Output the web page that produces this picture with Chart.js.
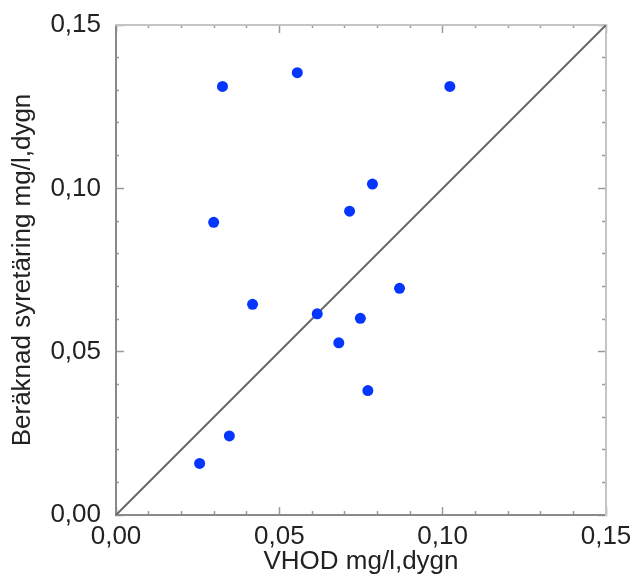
<!DOCTYPE html>
<html>
<head>
<meta charset="utf-8">
<script src="https://cdn.jsdelivr.net/npm/chart.js@4/dist/chart.umd.min.js"></script>
<style>
  body { margin: 0; background: #fff; }
</style>
</head>
<body>
<canvas id="myChart" width="634" height="581"></canvas>
<script>
// VHOD (x) vs beräknad syretäring (y), mg/l,dygn
const vhod = [0.0326, 0.0555, 0.1022, 0.0785, 0.0715, 0.0299, 0.0868, 0.0418, 0.0616, 0.0748, 0.0682, 0.0771, 0.0347, 0.0256];
const beraknad = [0.1312, 0.1354, 0.1312, 0.1013, 0.0930, 0.0896, 0.0694, 0.0645, 0.0616, 0.0602, 0.0527, 0.0381, 0.0242, 0.0158];
// 1:1 line
const refLine = [0, 0.15];

const axisMin = 0;
const axisMax = 0.15;
const majorStep = 0.05;
const minorStep = 0.01;

const FONT = "'Liberation Sans', Arial, sans-serif";

function isMajor(v) {
  const r = v / majorStep;
  return Math.abs(r - Math.round(r)) < 1e-6;
}
function fmt(v) {
  return isMajor(v) ? v.toFixed(2).replace(".", ",") : "";
}
// minor ticks shorter: cut the tick line with a dash pattern
function tickDash(inwardStart) {
  return function (ctx) {
    if (ctx.tick && isMajor(ctx.tick.value)) return [];
    return inwardStart ? [0, 5, 4, 100] : [5, 100];
  };
}

function axis(pos, opts) {
  const inwardStart = pos === "top" || pos === "left";
  return Object.assign({
    type: "linear",
    position: pos,
    min: axisMin,
    max: axisMax,
    ticks: {
      stepSize: minorStep,
      autoSkip: false,
      maxRotation: 0,
      display: false,
    },
    grid: {
      drawOnChartArea: false,
      drawTicks: true,
      tickLength: -8,
      tickColor: "#9a9a9a",
      tickWidth: 1.5,
      tickBorderDash: tickDash(inwardStart),
    },
    border: { display: true, color: "#c4c4c4", width: 2 },
  }, opts);
}

const data = {
  datasets: [
    {
      type: "scatter",
      label: "Mätpunkter",
      data: vhod.map((x, i) => ({ x: x, y: beraknad[i] })),
      backgroundColor: "#0536ff",
      borderWidth: 0,
      pointRadius: 5.5,
      pointHoverRadius: 5.5,
      xAxisID: "x",
      yAxisID: "y",
      order: 1,
    },
    {
      type: "line",
      label: "1:1",
      data: refLine.map((v) => ({ x: v, y: v })),
      borderColor: "#6a6a6a",
      borderWidth: 2,
      pointRadius: 0,
      fill: false,
      xAxisID: "x",
      yAxisID: "y",
      order: 2,
    },
  ],
};

const scaleX = axis("bottom", {
  ticks: {
    stepSize: minorStep,
    autoSkip: false,
    maxRotation: 0,
    padding: 14,
    color: "#222",
    font: { family: FONT, size: 26 },
    callback: (v) => fmt(v),
  },
  border: { display: true, color: "#8a8a8a", width: 2 },
  title: {
    display: true,
    text: "VHOD mg/l,dygn",
    color: "#222",
    font: { family: FONT, size: 26 },
    padding: { top: 0, bottom: 4 },
  },
  afterFit: (s) => {
    s.height = 66;
    s.paddingLeft = 0;
    s.paddingRight = 0;
  },
});
const scaleY = axis("left", {
  ticks: {
    stepSize: minorStep,
    autoSkip: false,
    padding: 23,
    color: "#222",
    font: { family: FONT, size: 26 },
    callback: (v) => fmt(v),
  },
  border: { display: true, color: "#8a8a8a", width: 2 },
  title: {
    display: true,
    text: "Beräknad syretäring mg/l,dygn",
    color: "#222",
    font: { family: FONT, size: 26 },
    padding: { top: 7, bottom: 0 },
  },
  afterFit: (s) => {
    s.width = 116;
    s.paddingTop = 0;
    s.paddingBottom = 0;
  },
});
const scaleTop = axis("top", { afterFit: (s) => { s.height = 0; } });
const scaleRight = axis("right", { afterFit: (s) => { s.width = 0; } });

const config = {
  data: data,
  options: {
    responsive: false,
    animation: false,
    layout: { padding: { top: 25, right: 28, left: 0, bottom: 0 } },
    plugins: {
      legend: { display: false },
      tooltip: { enabled: false },
    },
    scales: {
      x: scaleX,
      y: scaleY,
      xTop: scaleTop,
      yRight: scaleRight,
    },
  },
};
const myChart = new Chart(document.getElementById("myChart"), config);
</script>
</body>
</html>
